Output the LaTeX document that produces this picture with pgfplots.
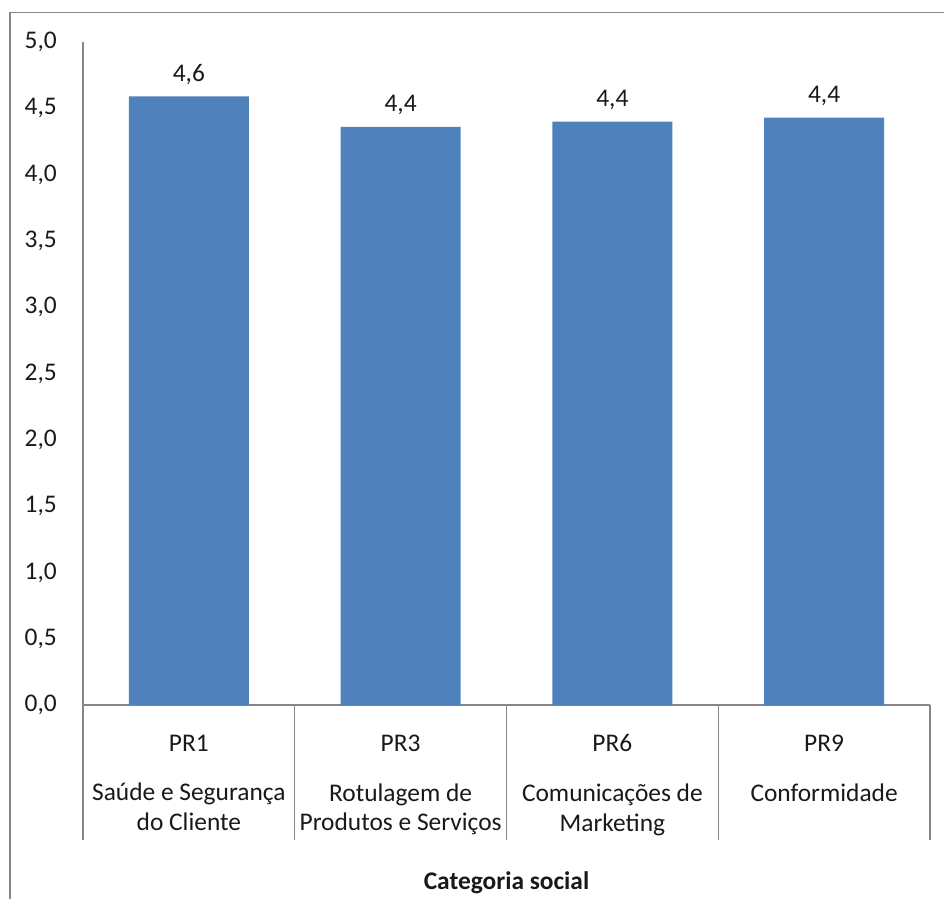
\documentclass[border=0pt]{standalone}
\usepackage{fontspec}
\setmainfont{Carlito}
\usepackage{pgfplots}
\usepackage{pgfplotstable}
\pgfplotsset{compat=1.18}
\definecolor{barblue}{RGB}{79,129,189}
\definecolor{axgray}{RGB}{134,134,134}
\definecolor{txt}{RGB}{25,25,25}
\pgfplotstableread{
x y
0 4.59
1 4.36
2 4.40
3 4.43
}\data
\newcommand{\lblfont}{\fontsize{25.5}{30}\selectfont}
\begin{document}
\begin{tikzpicture}
\useasboundingbox (-83bp,-194bp) rectangle (861bp,705bp);
\begin{axis}[
  at={(0,0)}, anchor=south west,
  scale only axis, width=847bp, height=663bp,
  xmin=-0.5, xmax=3.5, ymin=0, ymax=5,
  axis lines*=left,
  axis line style={axgray, line width=1.3bp},
  major tick length=0pt,
  ybar, bar width=120bp,
  xtick={0,1,2,3},
  xticklabels={{PR1\\[20bp]Saúde e Segurança\\do Cliente},
               {PR3\\[20bp]Rotulagem de\\Produtos e Serviços},
               {PR6\\[20bp]Comunicações de\\Marketing},
               {PR9\\[20bp]Conformidade}},
  xticklabel style={align=center, anchor=north, inner sep=0pt, yshift=-29.5bp,
                    font=\lblfont, text=txt},
  ytick distance=0.5,
  yticklabel={\pgfmathprintnumber[fixed,fixed zerofill,precision=1,use comma,assume math mode=true]{\tick}},
  yticklabel style={anchor=east, inner sep=0pt, xshift=-26bp,
                    font=\lblfont, text=txt},
  nodes near coords={\pgfmathprintnumber[fixed,fixed zerofill,precision=1,use comma,assume math mode=true]{\pgfplotspointmeta}},
  every node near coord/.append style={font=\lblfont, text=txt, anchor=base, inner sep=0pt, yshift=15bp},
  xlabel={\bfseries Categoria social},
  xlabel style={at={(axis description cs:0.5,0)}, anchor=base, inner sep=0pt, yshift=-184bp,
                font=\lblfont, text=txt},
  clip=false,
]
\addplot[fill=barblue, draw=none] table[x=x,y=y]{\data};
\draw[axgray, line width=1.3bp] (axis cs:-0.5,0) -- ([yshift=-135bp]axis cs:-0.5,0);
\draw[axgray, line width=1.3bp] (axis cs:0.5,0) -- ([yshift=-135bp]axis cs:0.5,0);
\draw[axgray, line width=1.3bp] (axis cs:1.5,0) -- ([yshift=-135bp]axis cs:1.5,0);
\draw[axgray, line width=1.3bp] (axis cs:2.5,0) -- ([yshift=-135bp]axis cs:2.5,0);
\draw[axgray, line width=1.3bp] (axis cs:3.5,0) -- ([yshift=-135bp]axis cs:3.5,0);
\end{axis}
\draw[axgray, line width=1.5bp] (-73bp,-300bp) -- (-73bp,692.3bp) -- (950bp,692.3bp);
\end{tikzpicture}
\end{document}
